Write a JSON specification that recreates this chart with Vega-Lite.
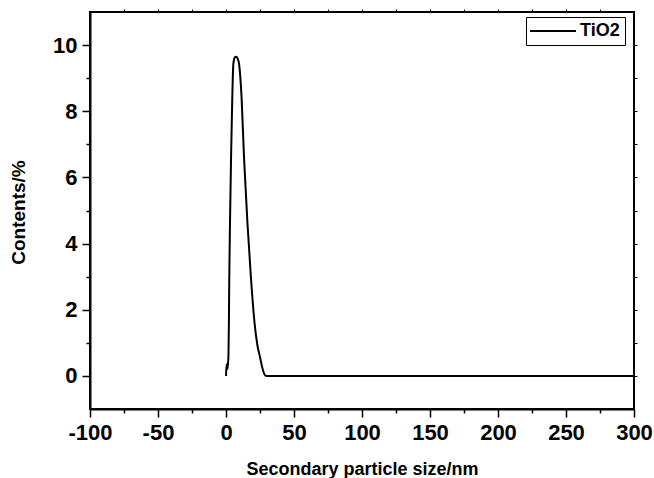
{
  "$schema": "https://vega.github.io/schema/vega-lite/v6.json",
  "width": 544,
  "height": 397,
  "autosize": {"type": "none"},
  "padding": {"left": 90, "top": 12, "right": 20, "bottom": 69},
  "background": "white",
  "config": {
    "view": {"stroke": "black", "strokeWidth": 2},
    "font": "Liberation Sans"
  },
  "data": {
    "values": [
      {"size": 0, "content": 0},
      {"size": 0.4, "content": 0.35},
      {"size": 0.8, "content": 0.2},
      {"size": 1.3, "content": 0.3},
      {"size": 1.8, "content": 0.6},
      {"size": 2.1, "content": 1.5},
      {"size": 2.4, "content": 2.93},
      {"size": 3.0, "content": 4.8},
      {"size": 3.7, "content": 6.56},
      {"size": 4.6, "content": 8.37},
      {"size": 5.4, "content": 9.43},
      {"size": 6.4, "content": 9.62},
      {"size": 7.4, "content": 9.65},
      {"size": 8.5, "content": 9.6},
      {"size": 9.6, "content": 9.43},
      {"size": 11.5, "content": 8.37},
      {"size": 13.3, "content": 6.56},
      {"size": 15.8, "content": 4.6},
      {"size": 18.4, "content": 2.93},
      {"size": 21.0, "content": 1.6},
      {"size": 23.0, "content": 0.95},
      {"size": 25.0, "content": 0.57},
      {"size": 27.0, "content": 0.2},
      {"size": 28.7, "content": 0.02},
      {"size": 30, "content": 0},
      {"size": 50, "content": 0},
      {"size": 100, "content": 0},
      {"size": 150, "content": 0},
      {"size": 200, "content": 0},
      {"size": 250, "content": 0},
      {"size": 300, "content": 0}
    ]
  },
  "layer": [
    {
      "mark": {"type": "line", "color": "black", "strokeWidth": 2, "interpolate": "monotone"},
      "encoding": {
        "x": {
          "field": "size", "type": "quantitative",
          "scale": {"domain": [-100, 300], "nice": false, "zero": false},
          "axis": {
            "orient": "bottom",
            "values": [-100, -50, 0, 50, 100, 150, 200, 250, 300],
            "labelExpr": "datum.value + ''",
            "grid": false,
            "tickSize": 8, "tickWidth": 1.5, "tickColor": "black",
            "domainColor": "black", "domainWidth": 2,
            "labelFont": "Liberation Sans", "labelFontSize": 22, "labelFontWeight": "bold", "labelColor": "black",
            "labelPadding": 5, "labelFlush": false, "labelOverlap": false,
            "title": "Secondary particle size/nm",
            "titleFont": "Liberation Sans", "titleFontSize": 18, "titleFontWeight": "bold", "titleColor": "black",
            "titleY": 65, "titleBaseline": "alphabetic"
          }
        },
        "y": {
          "field": "content", "type": "quantitative",
          "scale": {"domain": [-1, 11], "nice": false, "zero": false},
          "axis": {
            "orient": "left",
            "values": [0, 2, 4, 6, 8, 10],
            "labelExpr": "datum.value + ''",
            "grid": false,
            "tickSize": 8, "tickWidth": 1.5, "tickColor": "black",
            "domainColor": "black", "domainWidth": 2,
            "labelFont": "Liberation Sans", "labelFontSize": 22, "labelFontWeight": "bold", "labelColor": "black",
            "labelPadding": 5,
            "title": "Contents/%",
            "titleFont": "Liberation Sans", "titleFontSize": 19, "titleFontWeight": "bold", "titleColor": "black",
            "titleAngle": -90, "titleX": -66, "titleY": 200, "titleBaseline": "alphabetic", "titleAlign": "center"
          }
        },
        "color": {
          "datum": "TiO2", "type": "nominal",
          "scale": {"range": ["black"]},
          "legend": {
            "orient": "none", "legendX": 436, "legendY": 5,
            "title": null,
            "strokeColor": "black",
            "padding": 5,
            "symbolType": "M-4,0H4",
            "symbolSize": 132,
            "symbolStrokeWidth": 2,
            "symbolStrokeColor": "black",
            "symbolFillColor": "transparent",
            "symbolOffset": 13,
            "labelOffset": 18,
            "labelFont": "Liberation Sans", "labelFontSize": 18, "labelFontWeight": "bold", "labelColor": "black"
          }
        }
      }
    },
    {
      "mark": {"type": "line", "strokeOpacity": 0},
      "encoding": {
        "x": {
          "field": "size", "type": "quantitative",
          "axis": {
            "orient": "bottom",
            "values": [-75, -25, 25, 75, 125, 175, 225, 275],
            "grid": false, "domain": false, "labels": false, "title": null,
            "tickSize": 4, "tickWidth": 1.5, "tickColor": "black"
          }
        },
        "y": {
          "field": "content", "type": "quantitative",
          "axis": {
            "orient": "left",
            "values": [1, 3, 5, 7, 9],
            "grid": false, "domain": false, "labels": false, "title": null,
            "tickSize": 4, "tickWidth": 1.5, "tickColor": "black"
          }
        }
      }
    },
    {
      "mark": {"type": "line", "strokeOpacity": 0},
      "encoding": {
        "x": {
          "field": "size", "type": "quantitative",
          "axis": {
            "orient": "top",
            "values": [-75, -50, -25, 0, 25, 50, 75, 100, 125, 150, 175, 200, 225, 250, 275],
            "grid": false, "domain": false, "labels": false, "title": null,
            "tickSize": 3, "tickWidth": 1, "tickColor": "black"
          }
        },
        "y": {
          "field": "content", "type": "quantitative",
          "axis": {
            "orient": "right",
            "values": [0, 1, 2, 3, 4, 5, 6, 7, 8, 9, 10],
            "grid": false, "domain": false, "labels": false, "title": null,
            "tickSize": 3, "tickWidth": 1, "tickColor": "black"
          }
        }
      }
    }
  ],
  "resolve": {"axis": {"x": "independent", "y": "independent"}}
}
